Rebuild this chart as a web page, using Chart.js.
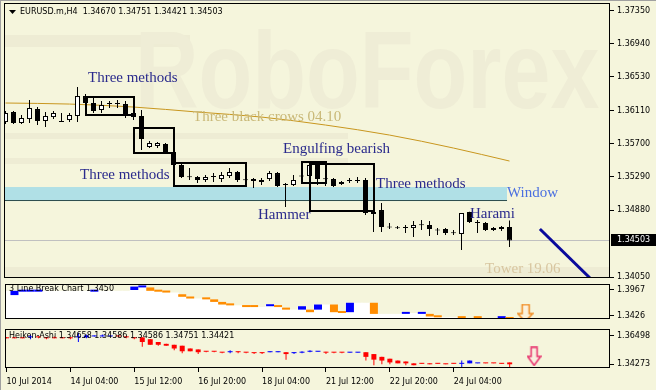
<!DOCTYPE html>
<html>
<head>
<meta charset="utf-8">
<title>EURUSD.m H4</title>
<script src="https://cdn.jsdelivr.net/npm/chart.js@4.4.1/dist/chart.umd.min.js"></script>
<style>
  html, body { margin: 0; padding: 0; background: #f5f5dc; }
  #wrap { position: relative; width: 656px; height: 390px; overflow: hidden; background: #f5f5dc; box-shadow: inset 1px 1px 0 #a0a0a0; }
  #wrap canvas { position: absolute; left: 0; }
</style>
</head>
<body>
<div id="wrap">
  <canvas id="mainChart" width="656" height="279" style="top:0"></canvas>
  <canvas id="lbChart" width="656" height="45" style="top:279px"></canvas>
  <canvas id="haChart" width="656" height="66" style="top:324px"></canvas>
</div>
<script>
// x축은 봉 번호 (0 = 10 Jul 2014, H4)
const X_MIN = -0.1875, X_MAX = 75.5625;

const xTickBars = [0, 8, 16, 24, 32, 40, 48, 56];
const xTickLabels = ['10 Jul 2014', '14 Jul 04:00', '15 Jul 12:00', '16 Jul 20:00',
  '18 Jul 04:00', '21 Jul 12:00', '22 Jul 20:00', '24 Jul 04:00'];

const priceTicks = [1.37350, 1.36940, 1.36530, 1.36110, 1.35700, 1.35290, 1.34880, 1.34050];
const lbTicks = [1.3967, 1.3426];
const haTicks = [1.36498, 1.34273];

// EURUSD.m H4 캔들
const candleOpen = [1.35970, 1.36094, 1.35958, 1.36007, 1.36131, 1.35983, 1.36032, 1.35983, 1.35995, 1.36045,
  1.36292, 1.36206, 1.36119, 1.36193, 1.36193, 1.36193, 1.36082, 1.36045, 1.35661, 1.35673,
  1.35698, 1.35599, 1.35438, 1.35289, 1.35289, 1.35252, 1.35289, 1.35264, 1.35301, 1.35351,
  1.35252, 1.35264, 1.35227, 1.35264, 1.35338, 1.35190, 1.35190, 1.35301, 1.35301, 1.35438,
  1.35264, 1.35264, 1.35202, 1.35239, 1.35239, 1.35252, 1.34855, 1.34880, 1.34669, 1.34657,
  1.34657, 1.34657, 1.34694, 1.34694, 1.34632, 1.34645, 1.34595, 1.34583, 1.34855, 1.34731,
  1.34719, 1.34632, 1.34645, 1.34670];
const candleHigh = [1.36107, 1.36107, 1.36057, 1.36243, 1.36156, 1.36094, 1.36107, 1.36082, 1.36082, 1.36404,
  1.36317, 1.36268, 1.36231, 1.36231, 1.36243, 1.36231, 1.36119, 1.36119, 1.35735, 1.35723,
  1.35710, 1.35623, 1.35462, 1.35400, 1.35301, 1.35314, 1.35338, 1.35351, 1.35400, 1.35363,
  1.35264, 1.35276, 1.35276, 1.35363, 1.35351, 1.35215, 1.35314, 1.35338, 1.35487, 1.35462,
  1.35314, 1.35276, 1.35239, 1.35276, 1.35289, 1.35276, 1.34967, 1.34967, 1.34719, 1.34682,
  1.34694, 1.34744, 1.34756, 1.34744, 1.34657, 1.34657, 1.34632, 1.34843, 1.34860, 1.34756,
  1.34731, 1.34669, 1.34682, 1.34751];
const candleLow = [1.35946, 1.35946, 1.35946, 1.35958, 1.35933, 1.35908, 1.36007, 1.35970, 1.35970, 1.35970,
  1.36193, 1.36082, 1.36082, 1.36144, 1.36144, 1.36020, 1.35995, 1.35623, 1.35648, 1.35648,
  1.35586, 1.35413, 1.35276, 1.35252, 1.35215, 1.35227, 1.35227, 1.35227, 1.35276, 1.35227,
  1.35227, 1.35153, 1.35190, 1.35239, 1.35165, 1.34917, 1.35177, 1.35264, 1.35276, 1.35190,
  1.35177, 1.35165, 1.35190, 1.35215, 1.35215, 1.34818, 1.34607, 1.34607, 1.34645, 1.34645,
  1.34595, 1.34545, 1.34632, 1.34558, 1.34570, 1.34570, 1.34570, 1.34384, 1.34719, 1.34595,
  1.34620, 1.34620, 1.34620, 1.34421];
const candleClose = [1.36082, 1.35958, 1.36020, 1.36144, 1.35983, 1.36045, 1.36082, 1.35972, 1.36057, 1.36292,
  1.36206, 1.36107, 1.36181, 1.36195, 1.36195, 1.36045, 1.36032, 1.35760, 1.35710, 1.35710,
  1.35599, 1.35438, 1.35289, 1.35285, 1.35252, 1.35289, 1.35292, 1.35314, 1.35351, 1.35252,
  1.35250, 1.35239, 1.35252, 1.35338, 1.35177, 1.35202, 1.35252, 1.35296, 1.35438, 1.35264,
  1.35260, 1.35177, 1.35227, 1.35243, 1.35243, 1.34843, 1.34830, 1.34669, 1.34665, 1.34655,
  1.34660, 1.34694, 1.34690, 1.34645, 1.34628, 1.34595, 1.34592, 1.34843, 1.34731, 1.34719,
  1.34632, 1.34657, 1.34669, 1.34503];

// 이동평균선 (몇 개 봉에서 읽은 값)
const maBars = [0, 8, 16, 24, 32, 40, 48, 56, 63];
const maValues = [1.36206, 1.36193, 1.36156, 1.36094, 1.36032, 1.35933, 1.35809, 1.35648, 1.35487];

// 파란 추세선
const trendBars = [66.8, 73.06];
const trendValues = [1.34645, 1.34038];

// 3 Line Break 블록
const lbBars = [1, 2, 3, 4, 11, 16, 17, 18, 19, 20, 22, 23, 25, 26, 27, 28, 30, 31, 33, 34,
  35, 37, 38, 39, 41, 42, 43, 46, 50, 52, 53, 54, 57, 59, 62, 63];
const lbOpen = [1.3859, 1.3931, 1.3931, 1.3931, 1.3931, 1.3967, 1.4021, 1.4021, 1.3949, 1.3931,
  1.3877, 1.3823, 1.3787, 1.3769, 1.3715, 1.3660, 1.3624, 1.3624, 1.3624, 1.3624,
  1.3588, 1.3552, 1.3552, 1.3552, 1.3660, 1.3498, 1.3498, 1.3697, 1.3462, 1.3462,
  1.3462, 1.3408, 1.3390, 1.3390, 1.3372, 1.3372];
const lbClose = [1.3949, 1.3949, 1.3949, 1.3949, 1.3949, 1.4039, 1.4057, 1.3949, 1.3931, 1.3913,
  1.3823, 1.3787, 1.3769, 1.3715, 1.3660, 1.3642, 1.3606, 1.3606, 1.3660, 1.3606,
  1.3552, 1.3624, 1.3498, 1.3660, 1.3498, 1.3480, 1.3697, 1.3462, 1.3480, 1.3480,
  1.3408, 1.3390, 1.3372, 1.3372, 1.3408, 1.3354];
const lbSignalBar = [64.94];
const lbSignalValue = [1.3480];

// Heiken-Ashi
const haOpen = [1.36355, 1.36355, 1.36355, 1.36355, 1.36427, 1.36355, 1.36355, 1.36355, 1.36355, 1.36355,
  1.36355, 1.36427, 1.36427, 1.36427, 1.36499, 1.36427, 1.36355, 1.36355, 1.36212, 1.35996,
  1.35853, 1.35781, 1.35709, 1.35494, 1.35422, 1.35278, 1.35278, 1.35206, 1.35206, 1.35278,
  1.35206, 1.35170, 1.35206, 1.35206, 1.35206, 1.35206, 1.35135, 1.35170, 1.35242, 1.35242,
  1.35242, 1.35206, 1.35206, 1.35170, 1.35170, 1.35206, 1.35063, 1.34847, 1.34704, 1.34560,
  1.34488, 1.34345, 1.34345, 1.34345, 1.34345, 1.34309, 1.34345, 1.34309, 1.34345, 1.34345,
  1.34381, 1.34381, 1.34345, 1.34417];
const haHigh = [1.36355, 1.36355, 1.36355, 1.36571, 1.36427, 1.36355, 1.36427, 1.36355, 1.36355, 1.36714,
  1.36571, 1.36499, 1.36571, 1.36499, 1.36499, 1.36427, 1.36355, 1.36355, 1.36212, 1.35996,
  1.35853, 1.35781, 1.35709, 1.35494, 1.35422, 1.35278, 1.35278, 1.35206, 1.35350, 1.35278,
  1.35206, 1.35170, 1.35206, 1.35278, 1.35278, 1.35206, 1.35206, 1.35278, 1.35350, 1.35278,
  1.35242, 1.35206, 1.35206, 1.35206, 1.35206, 1.35206, 1.35063, 1.34847, 1.34704, 1.34560,
  1.34488, 1.34345, 1.34345, 1.34345, 1.34345, 1.34309, 1.34345, 1.34560, 1.34560, 1.34381,
  1.34381, 1.34381, 1.34345, 1.34417];
const haLow = [1.36283, 1.36283, 1.36283, 1.36212, 1.36283, 1.36212, 1.36283, 1.36283, 1.36212, 1.35996,
  1.36283, 1.36427, 1.36427, 1.36427, 1.36355, 1.36283, 1.36212, 1.35637, 1.35781, 1.35709,
  1.35709, 1.35350, 1.35135, 1.35278, 1.35063, 1.35206, 1.35206, 1.35135, 1.35135, 1.35135,
  1.35135, 1.35063, 1.35063, 1.35206, 1.35206, 1.34632, 1.35063, 1.35135, 1.35206, 1.35242,
  1.35063, 1.35135, 1.35135, 1.35170, 1.35170, 1.34560, 1.34201, 1.34273, 1.34273, 1.34345,
  1.34201, 1.34201, 1.34309, 1.34273, 1.34309, 1.34273, 1.34309, 1.33914, 1.34345, 1.34345,
  1.34345, 1.34345, 1.34309, 1.33986];
const haClose = [1.36283, 1.36283, 1.36283, 1.36427, 1.36355, 1.36283, 1.36283, 1.36283, 1.36283, 1.36427,
  1.36499, 1.36499, 1.36499, 1.36499, 1.36427, 1.36355, 1.36283, 1.35996, 1.35781, 1.35781,
  1.35709, 1.35494, 1.35278, 1.35278, 1.35206, 1.35242, 1.35242, 1.35170, 1.35242, 1.35206,
  1.35170, 1.35135, 1.35135, 1.35242, 1.35242, 1.35063, 1.35170, 1.35242, 1.35278, 1.35278,
  1.35170, 1.35170, 1.35170, 1.35206, 1.35206, 1.34847, 1.34632, 1.34560, 1.34417, 1.34345,
  1.34345, 1.34201, 1.34309, 1.34273, 1.34309, 1.34273, 1.34309, 1.34345, 1.34560, 1.34381,
  1.34345, 1.34345, 1.34309, 1.34273];
const haSignalBar = [66.06];
const haSignalValue = [1.34883];

// 패턴 박스와 글자 (봉 번호, 가격)
const patternBoxes = [
  { from: 10, to: 16, top: 1.36280, bottom: 1.36057 },
  { from: 16, to: 21, top: 1.35896, bottom: 1.35586 },
  { from: 21, to: 30, top: 1.35462, bottom: 1.35177 },
  { from: 37, to: 40, top: 1.35475, bottom: 1.35215 },
  { from: 38, to: 46, top: 1.35450, bottom: 1.34868 }
];
const windowZone = { from: X_MIN, to: 62.69, top: 1.35165, bottom: 1.34991 };
const notes = [
  { text: 'Three methods', bar: 10.31, price: 1.36515, kind: 'pattern' },
  { text: 'Three black crows 04.10', bar: 23.44, price: 1.36032, kind: 'old' },
  { text: 'Three methods', bar: 9.31, price: 1.35314, kind: 'pattern' },
  { text: 'Engulfing bearish', bar: 34.69, price: 1.35636, kind: 'pattern' },
  { text: 'Hammer', bar: 31.56, price: 1.34818, kind: 'pattern' },
  { text: 'Three methods', bar: 46.31, price: 1.35202, kind: 'pattern' },
  { text: 'Window', bar: 62.69, price: 1.35091, kind: 'window' },
  { text: 'Harami', bar: 58.06, price: 1.34830, kind: 'pattern' },
  { text: 'Tower 19.06', bar: 59.94, price: 1.34149, kind: 'faded' }
];
const noteColors = { pattern: '#2a2a8c', old: '#c9b877', window: '#4a6fe0', faded: '#d8c6a0' };

Chart.defaults.font.family = '"DejaVu Sans", sans-serif';
Chart.defaults.font.size = 8;
Chart.defaults.color = '#000';

const bars = candleOpen.map((_, i) => i);

function panelBorder(chart) {
  const { ctx, chartArea: a } = chart;
  ctx.save();
  ctx.strokeStyle = '#000';
  ctx.lineWidth = 1;
  ctx.strokeRect(a.left + 0.5, a.top + 0.5, a.right - a.left - 1, a.bottom - a.top - 1);
  ctx.restore();
}

function yAxis(min, max, ticks, digits) {
  return {
    type: 'linear', position: 'right', min: min, max: max,
    afterBuildTicks: s => { s.ticks = ticks.map(v => ({ value: v })); },
    afterFit: s => { s.width = 46; s.paddingTop = 0; s.paddingBottom = 0; },
    ticks: { callback: v => Number(v).toFixed(digits), padding: 3, autoSkip: false, color: '#000' },
    grid: { drawOnChartArea: false, tickLength: 4, color: '#000' },
    border: { display: false }
  };
}

function hiddenX() {
  return { type: 'linear', min: X_MIN, max: X_MAX, offset: false, display: false };
}

function makeArrow(w, h, stroke, fill) {
  const c = document.createElement('canvas');
  c.width = w; c.height = h;
  const g = c.getContext('2d');
  const sw = Math.round(w * 0.46), sx = Math.round((w - sw) / 2), sh = Math.round(h * 0.5);
  g.beginPath();
  g.moveTo(sx + 0.5, 1);
  g.lineTo(sx + sw - 0.5, 1);
  g.lineTo(sx + sw - 0.5, sh);
  g.lineTo(w - 1, sh);
  g.lineTo(w / 2, h - 1);
  g.lineTo(1, sh);
  g.lineTo(sx + 0.5, sh);
  g.closePath();
  g.fillStyle = fill;
  g.fill();
  g.strokeStyle = stroke;
  g.lineWidth = 1.5;
  g.stroke();
  return c;
}

const commonOptions = {
  responsive: false, animation: false, events: [],
  plugins: { legend: { display: false }, tooltip: { enabled: false } }
};

// ---------- 메인 차트 ----------
const mainDecor = {
  id: 'mainDecor',
  beforeDatasetsDraw(chart) {
    const { ctx, chartArea: a, scales: { x, y } } = chart;
    ctx.save();
    ctx.beginPath();
    ctx.rect(a.left, a.top, a.right - a.left, a.bottom - a.top);
    ctx.clip();
    // 배경 워터마크
    ctx.fillStyle = '#eeecd4';
    ctx.fillRect(a.left, 35, 186, 12);
    ctx.fillRect(a.left, 133, 344, 6);
    ctx.fillRect(a.left, 158, 344, 6);
    ctx.fillRect(a.left, 267, a.right - a.left, 11);
    ctx.save();
    ctx.translate(135, 108);
    ctx.scale(0.8, 1);
    ctx.font = 'bold 110px "Liberation Sans"';
    ctx.fillStyle = '#efedd6';
    ctx.fillText('RoboForex', 0, 0);
    ctx.restore();
    // Window 구간
    const wx0 = x.getPixelForValue(windowZone.from), wx1 = x.getPixelForValue(windowZone.to);
    const wy0 = y.getPixelForValue(windowZone.top), wy1 = y.getPixelForValue(windowZone.bottom);
    ctx.fillStyle = '#b0e0e6';
    ctx.fillRect(wx0, wy0, wx1 - wx0, wy1 - wy0);
    ctx.fillStyle = '#2f4f4f';
    ctx.fillRect(wx0, Math.round(wy1) - 1, wx1 - wx0, 1);
    // 현재가 선
    const py = Math.round(y.getPixelForValue(candleClose[candleClose.length - 1])) + 0.5;
    ctx.strokeStyle = '#c0c0c0';
    ctx.lineWidth = 1;
    ctx.beginPath();
    ctx.moveTo(a.left, py);
    ctx.lineTo(a.right, py);
    ctx.stroke();
    ctx.restore();
  },
  afterDatasetsDraw(chart) {
    const { ctx, chartArea: a, scales: { x, y } } = chart;
    ctx.save();
    ctx.beginPath();
    ctx.rect(a.left, a.top, a.right - a.left, a.bottom - a.top);
    ctx.clip();
    ctx.strokeStyle = '#000';
    ctx.lineWidth = 2;
    patternBoxes.forEach(b => {
      const x0 = Math.round(x.getPixelForValue(b.from)), x1 = Math.round(x.getPixelForValue(b.to));
      const y0 = Math.round(y.getPixelForValue(b.top)), y1 = Math.round(y.getPixelForValue(b.bottom));
      ctx.strokeRect(x0, y0, x1 - x0, y1 - y0);
    });
    ctx.font = '15px "Liberation Serif"';
    ctx.textBaseline = 'middle';
    ctx.textAlign = 'left';
    notes.forEach(n => {
      ctx.fillStyle = noteColors[n.kind];
      ctx.fillText(n.text, x.getPixelForValue(n.bar), y.getPixelForValue(n.price));
    });
    ctx.restore();
  },
  afterDraw(chart) {
    panelBorder(chart);
    const { ctx, scales: { y } } = chart;
    ctx.save();
    ctx.fillStyle = '#000';
    ctx.beginPath();
    ctx.moveTo(9, 10); ctx.lineTo(16, 10); ctx.lineTo(12.5, 14); ctx.closePath();
    ctx.fill();
    ctx.font = '8px "DejaVu Sans"';
    ctx.textBaseline = 'middle';
    ctx.fillText('EURUSD.m,H4  ' + [candleOpen[63], candleHigh[63], candleLow[63], candleClose[63]]
      .map(v => v.toFixed(5)).join(' '), 20, 12);
    // 현재가 표시
    const last = candleClose[candleClose.length - 1];
    const py = Math.round(y.getPixelForValue(last));
    ctx.fillRect(611, py - 6, 45, 12);
    ctx.fillStyle = '#fff';
    ctx.fillText(last.toFixed(5), 617, py);
    ctx.restore();
  }
};

new Chart(document.getElementById('mainChart'), {
  type: 'bar',
  data: {
    datasets: [
      {
        label: 'body', order: 1,
        data: bars.map(i => ({ x: i, y: [candleOpen[i], candleClose[i]] })),
        backgroundColor: bars.map(i => candleClose[i] > candleOpen[i] ? '#ffffff' : '#000000'),
        borderColor: '#000', borderWidth: 1, borderSkipped: false,
        barThickness: 5, grouped: false, minBarLength: 1, inflateAmount: 0
      },
      {
        label: 'wick', order: 2,
        data: bars.map(i => ({ x: i, y: [candleLow[i], candleHigh[i]] })),
        backgroundColor: '#000', borderWidth: 0,
        barThickness: 1, grouped: false, inflateAmount: 0
      },
      {
        type: 'line', label: 'MA', order: 3,
        data: maBars.map((b, k) => ({ x: b, y: maValues[k] })),
        borderColor: '#c8961e', borderWidth: 1, pointRadius: 0,
        cubicInterpolationMode: 'monotone'
      },
      {
        type: 'line', label: 'trend', order: 0,
        data: trendBars.map((b, k) => ({ x: b, y: trendValues[k] })),
        borderColor: '#0a0a9c', borderWidth: 3, pointRadius: 0
      }
    ]
  },
  options: Object.assign({}, commonOptions, {
    layout: { padding: { left: 4, top: 3, bottom: 1, right: 0 } },
    scales: { x: hiddenX(), y: yAxis(1.34038, 1.37445, priceTicks, 5) }
  }),
  plugins: [mainDecor]
});

// ---------- 3 Line Break ----------
const LB_MIN = 1.33539, LB_MAX = 1.40932;
// 흰 영역: 마지막 블록의 종가 아래
let lbLevel = lbClose[0];
const lbLevels = bars.map(i => {
  const k = lbBars.indexOf(i);
  if (k >= 0) lbLevel = lbClose[k];
  return lbLevel;
});

new Chart(document.getElementById('lbChart'), {
  type: 'bar',
  data: {
    datasets: [
      {
        type: 'line', label: 'signal', order: 0,
        data: lbSignalBar.map((b, k) => ({ x: b, y: lbSignalValue[k] })),
        showLine: false, pointStyle: makeArrow(17, 19, '#f08a20', '#fbf1dc')
      },
      {
        label: 'blocks', order: 1,
        data: lbBars.map((b, k) => ({ x: b, y: [lbOpen[k], lbClose[k]] })),
        backgroundColor: lbBars.map((b, k) => lbClose[k] > lbOpen[k] ? '#0000ff' : '#ff8c00'),
        borderWidth: 0, barThickness: 8, grouped: false, minBarLength: 2, inflateAmount: 0
      },
      {
        label: 'level', order: 2,
        data: bars.map(i => ({ x: i, y: [LB_MIN, lbLevels[i]] })),
        backgroundColor: '#ffffff', borderWidth: 0,
        barThickness: 9, grouped: false, inflateAmount: 0
      }
    ]
  },
  options: Object.assign({}, commonOptions, {
    layout: { padding: { left: 4, top: 2, bottom: 2, right: 0 } },
    scales: { x: hiddenX(), y: yAxis(LB_MIN, LB_MAX, lbTicks, 4) }
  }),
  plugins: [{
    id: 'lbDecor',
    afterDraw(chart) {
      panelBorder(chart);
      const ctx = chart.ctx;
      ctx.save();
      ctx.font = '8px "DejaVu Sans"';
      ctx.textBaseline = 'middle';
      ctx.fillStyle = '#000';
      ctx.fillText('3 Line Break Chart 1.3450', 9, 10);
      ctx.restore();
    }
  }]
});

// ---------- Heiken-Ashi ----------
const haColors = bars.map(i => haClose[i] > haOpen[i] ? '#0000ff' : '#ff0000');

new Chart(document.getElementById('haChart'), {
  type: 'bar',
  data: {
    datasets: [
      {
        type: 'line', label: 'signal', order: 0,
        data: haSignalBar.map((b, k) => ({ x: b, y: haSignalValue[k] })),
        showLine: false, pointStyle: makeArrow(15, 20, '#e8306c', '#f8eede')
      },
      {
        label: 'haBody', order: 1,
        data: bars.map(i => ({ x: i, y: [haOpen[i], haClose[i]] })),
        backgroundColor: haColors, borderWidth: 0,
        barThickness: 5, grouped: false, minBarLength: 1, inflateAmount: 0
      },
      {
        label: 'haWick', order: 2,
        data: bars.map(i => ({ x: i, y: [haLow[i], haHigh[i]] })),
        backgroundColor: haColors, borderWidth: 0,
        barThickness: 1, grouped: false, inflateAmount: 0
      }
    ]
  },
  options: Object.assign({}, commonOptions, {
    layout: { padding: { left: 4, top: 2, bottom: 0, right: 0 } },
    scales: {
      x: {
        type: 'linear', min: X_MIN, max: X_MAX, offset: false, position: 'bottom',
        afterBuildTicks: s => { s.ticks = xTickBars.map(v => ({ value: v })); },
        afterFit: s => { s.height = 22; s.paddingLeft = 0; s.paddingRight = 0; },
        ticks: {
          align: 'start', maxRotation: 0, minRotation: 0, autoSkip: false, padding: 5, color: '#000',
          callback: (v, i) => xTickLabels[i]
        },
        grid: { drawOnChartArea: false, tickLength: 4, color: '#000', offset: false },
        border: { display: false }
      },
      y: yAxis(1.33986, 1.37001, haTicks, 5)
    }
  }),
  plugins: [{
    id: 'haDecor',
    afterDraw(chart) {
      panelBorder(chart);
      const ctx = chart.ctx;
      ctx.save();
      ctx.font = '8px "DejaVu Sans"';
      ctx.textBaseline = 'middle';
      ctx.fillStyle = '#000';
      ctx.fillText('Heiken-Ashi 1.34658 1.34586 1.34586 1.34751 1.34421', 9, 12);
      ctx.restore();
    }
  }]
});
</script>
</body>
</html>
